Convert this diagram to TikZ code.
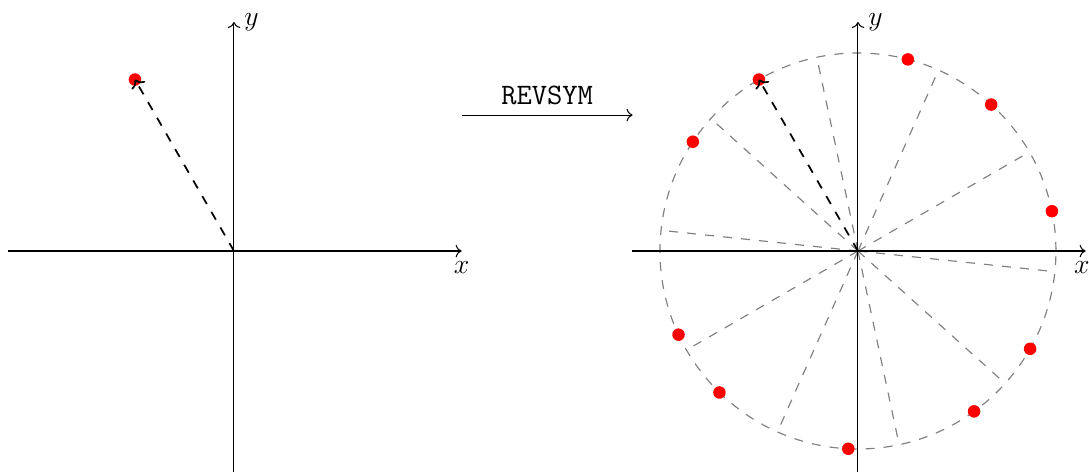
\documentclass[tikz,border=0pt]{standalone}
\usepackage{tikz}
\usetikzlibrary{arrows.meta}
\definecolor{dotred}{HTML}{FF0000}
\definecolor{spokegray}{HTML}{808080}
\tikzset{
  axisline/.style={->, line width=0.45pt, color=black},
  axislabel/.style={font=\fontsize{12.8}{15}\selectfont, inner sep=4.3pt},
  dotnode/.style={circle, fill=dotred, draw=none, inner sep=0pt,
    minimum size=5.4pt},
  vecarrow/.style={->, line width=0.75pt, dash pattern=on 3.9pt off 3.9pt},
  spoke/.style={line width=0.5pt, color=spokegray,
    dash pattern=on 3.9pt off 3.9pt},
  maparrow/.style={->, line width=0.45pt},
  maplabel/.style={font=\ttfamily\fontsize{12.8}{15}\selectfont,
    above, inner sep=4.3pt},
}
\begin{document}
\begin{tikzpicture}
  \useasboundingbox (-3.545,-3.348) rectangle (12.955,3.803);

  % Left: single point
  \coordinate (o1) at (0,0);
  \coordinate (x1a) at (-3.42,0);
  \coordinate (x1b) at (3.45,0);
  \coordinate (y1a) at (0,-3.45);
  \coordinate (y1b) at (0,3.47);
  \draw[axisline] (x1a) -- (x1b) node[axislabel, below] (lx1) {$x$};
  \draw[axisline] (y1a) -- (y1b) node[axislabel, right] (ly1) {$y$};
  \node[dotnode] (p1) at (120:3) {};
  \draw[vecarrow] (o1) -- (p1.center);

  % Map arrow
  \coordinate (m1) at (3.45,2.06);
  \coordinate (m2) at (6.04,2.06);
  \draw[maparrow] (m1) -- node[maplabel] (map) {REVSYM} (m2);

  % Right: orbit on circle
  \coordinate (o2) at (9.4545,0);
  \coordinate (x2a) at ([xshift=-3.42cm]o2);
  \coordinate (x2b) at ([xshift=3.45cm]o2);
  \coordinate (y2a) at ([yshift=-3.45cm]o2);
  \coordinate (y2b) at ([yshift=3.47cm]o2);
  \draw[spoke] (o2) circle[radius=3];
  \foreach \i in {0,...,9} {
    \path (o2) ++(30+36*\i:3) coordinate (s\i);
    \draw[spoke] (o2) -- (s\i);
  }
  \draw[axisline] (x2a) -- (x2b)
    node[axislabel, below, xshift=-1.6pt] (lx2) {$x$};
  \draw[axisline] (y2a) -- (y2b) node[axislabel, right] (ly2) {$y$};
  \foreach \a [count=\k] in {11.6,47.7,75.4,120,146.5,205,225.6,267.2,305.9,330.4} {
    \path (o2) ++(\a:3) node[dotnode] (q\k) {};
  }
  \draw[vecarrow] (o2) -- (q4.center);
\end{tikzpicture}
\end{document}
